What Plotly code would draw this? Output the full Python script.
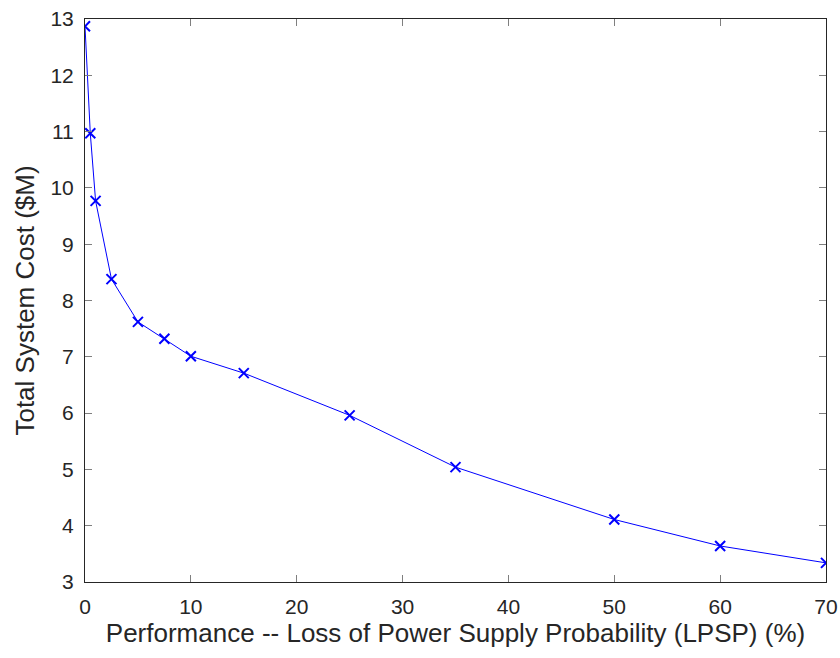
import plotly.graph_objects as go

# LPSP levels (%) and the corresponding optimal total system cost ($M)
lpsp = [0, 0.5, 1, 2.5, 5, 7.5, 10, 15, 25, 35, 50, 60, 70]
cost = [12.87, 10.97, 9.77, 8.38, 7.62, 7.32, 7.01, 6.71, 5.96, 5.04, 4.11, 3.64, 3.34]

x_ticks = [0, 10, 20, 30, 40, 50, 60, 70]
y_ticks = [3, 4, 5, 6, 7, 8, 9, 10, 11, 12, 13]

fig = go.Figure(
    go.Scatter(
        x=lpsp,
        y=cost,
        mode="lines+markers",
        line=dict(color="#0000ff", width=1),
        marker=dict(symbol="x-thin", size=10, line=dict(color="#0000ff", width=2)),
        showlegend=False,
    )
)

family = "Liberation Sans, Arial, sans-serif"
tick_font = dict(family=family, size=21, color="#262626")
title_font = dict(family=family, size=26, color="#262626")

axis_common = dict(
    showgrid=False,
    zeroline=False,
    showline=True,
    linecolor="#262626",
    linewidth=1,
    mirror="ticks",
    ticks="inside",
    ticklen=7,
    tickcolor="#7f7f7f",
    tickfont=tick_font,
    automargin=False,
)

fig.update_layout(
    width=840,
    height=658,
    paper_bgcolor="white",
    plot_bgcolor="white",
    margin=dict(l=85, r=14, t=19, b=76),
    font=tick_font,
    xaxis=dict(
        range=[0, 70],
        tickvals=x_ticks,
        ticklabelstandoff=6,
        title=dict(text="Performance -- Loss of Power Supply Probability (LPSP) (%)", font=title_font, standoff=2),
        **axis_common,
    ),
    yaxis=dict(
        range=[3, 13],
        tickvals=y_ticks,
        ticklabelstandoff=6,
        title=dict(text="Total System Cost ($M)", font=title_font, standoff=8),
        **axis_common,
    ),
)

fig.write_html("out.html")
